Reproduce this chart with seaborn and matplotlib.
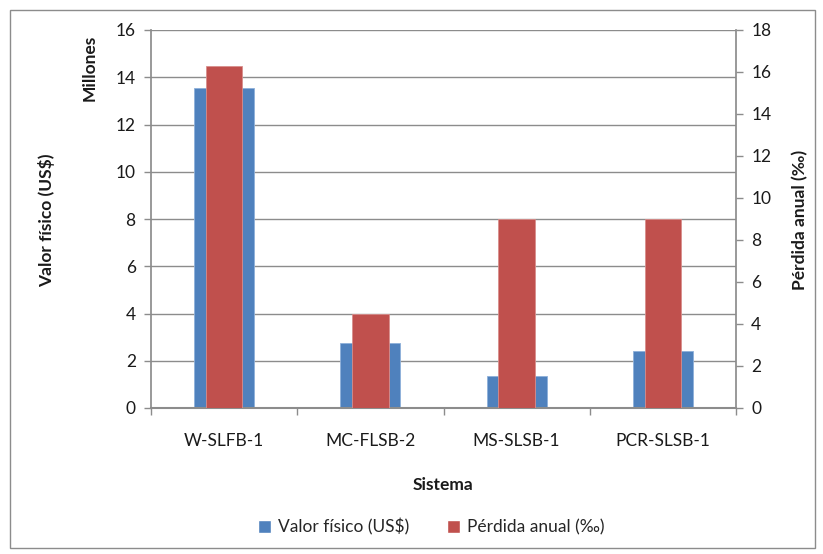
import matplotlib
matplotlib.use("Agg")
import matplotlib.pyplot as plt
import seaborn as sns
import pandas as pd
from matplotlib.patches import Rectangle, Patch

categories = ["W-SLFB-1", "MC-FLSB-2", "MS-SLSB-1", "PCR-SLSB-1"]
valor_fisico = [13.55, 2.75, 1.37, 2.41]      # millones US$
perdida_anual = [16.3, 4.5, 9.0, 9.0]         # ‰
left_ticks = [0, 2, 4, 6, 8, 10, 12, 14, 16]
right_ticks = [0, 2, 4, 6, 8, 10, 12, 14, 16, 18]

sns.set_theme(style="white")
plt.rcParams["font.family"] = ["Lato", "DejaVu Sans"]

blue = "#4F81BD"
red = "#C0504D"
grid = "#8C8C8C"
txt = "#1a1a1a"

fig = plt.figure(figsize=(8.23, 5.54), dpi=100)
fig.patches.append(Rectangle((10/823, 6/554), 805/823, 538/554, transform=fig.transFigure,
                             fill=False, edgecolor="#8C8C8C", linewidth=1.0))
ax = fig.add_axes([151/823, 1-408/554, (736-151)/823, (408-30)/554])
ax2 = ax.twinx()

df = pd.DataFrame({"Sistema": categories, "Valor": valor_fisico, "Perdida": perdida_anual})
sns.barplot(data=df, x="Sistema", y="Valor", color=blue, width=0.41, saturation=1,
            ax=ax, edgecolor="#8EB0DA", linewidth=0.6)
sns.barplot(data=df, x="Sistema", y="Perdida", color=red, width=0.25, saturation=1,
            ax=ax2, edgecolor="#D98E8C", linewidth=0.6)

ax.set_xlim(-0.5, 3.5)
ax.set_ylim(0, 16)
ax2.set_ylim(0, 18)
ax.set_yticks(left_ticks)
ax2.set_yticks(right_ticks)
ax.set_yticklabels([str(t) for t in left_ticks], fontsize=12.5, color=txt)
ax2.set_yticklabels([str(t) for t in right_ticks], fontsize=12.5, color=txt)

ax.set_xticks([-0.5, 0.5, 1.5, 2.5, 3.5])
ax.set_xticklabels([])
ax.set_xticks(range(len(categories)), minor=True)
ax.set_xticklabels(categories, minor=True, fontsize=12.5, color=txt)
ax.tick_params(axis="x", which="major", direction="out", length=5, width=1, color=grid, bottom=True)
ax.tick_params(axis="x", which="minor", length=0, pad=18)
ax.tick_params(axis="y", direction="out", length=5, width=1, color=grid, left=True, pad=6)
ax2.tick_params(axis="y", direction="out", length=5, width=1, color=grid, right=True, pad=6)

for y in left_ticks[1:]:
    ax.axhline(y, color=grid, linewidth=1, zorder=0)
ax.set_axisbelow(True)
ax2.set_zorder(ax.get_zorder() + 1)
ax2.patch.set_visible(False)

for a in (ax, ax2):
    for s in a.spines.values():
        s.set_visible(False)
ax.spines["left"].set_visible(True)
ax.spines["left"].set_color(grid)
ax.spines["bottom"].set_visible(True)
ax.spines["bottom"].set_color(grid)
ax.spines["bottom"].set_linewidth(1.5)
ax2.spines["right"].set_visible(True)
ax2.spines["right"].set_color(grid)

ax.set_xlabel("Sistema", fontsize=12.5, fontweight="bold", color=txt, labelpad=20)
ax.set_ylabel("")
ax2.set_ylabel("")
fig.text(800/823, 1-220/554, "Pérdida anual (‰)", rotation=90, fontsize=12.5, fontweight="bold",
         color=txt, ha="center", va="center")
fig.text(47/823, 1-220/554, "Valor físico (US$)", rotation=90, fontsize=12.5, fontweight="bold",
         color=txt, ha="center", va="center")
fig.text(90/823, 1-68/554, "Millones", rotation=90, fontsize=12.5, fontweight="bold",
         color=txt, ha="center", va="center")

handles = [Patch(facecolor=blue, label="Valor físico (US$)"),
           Patch(facecolor=red, label="Pérdida anual (‰)")]
fig.legend(handles=handles, loc="center", bbox_to_anchor=(431/823, 1-527/554), ncol=2,
           frameon=False, fontsize=12.5, handlelength=0.75, handleheight=0.75,
           handletextpad=0.4, columnspacing=2.2)

fig.savefig("out.png", dpi=100)
